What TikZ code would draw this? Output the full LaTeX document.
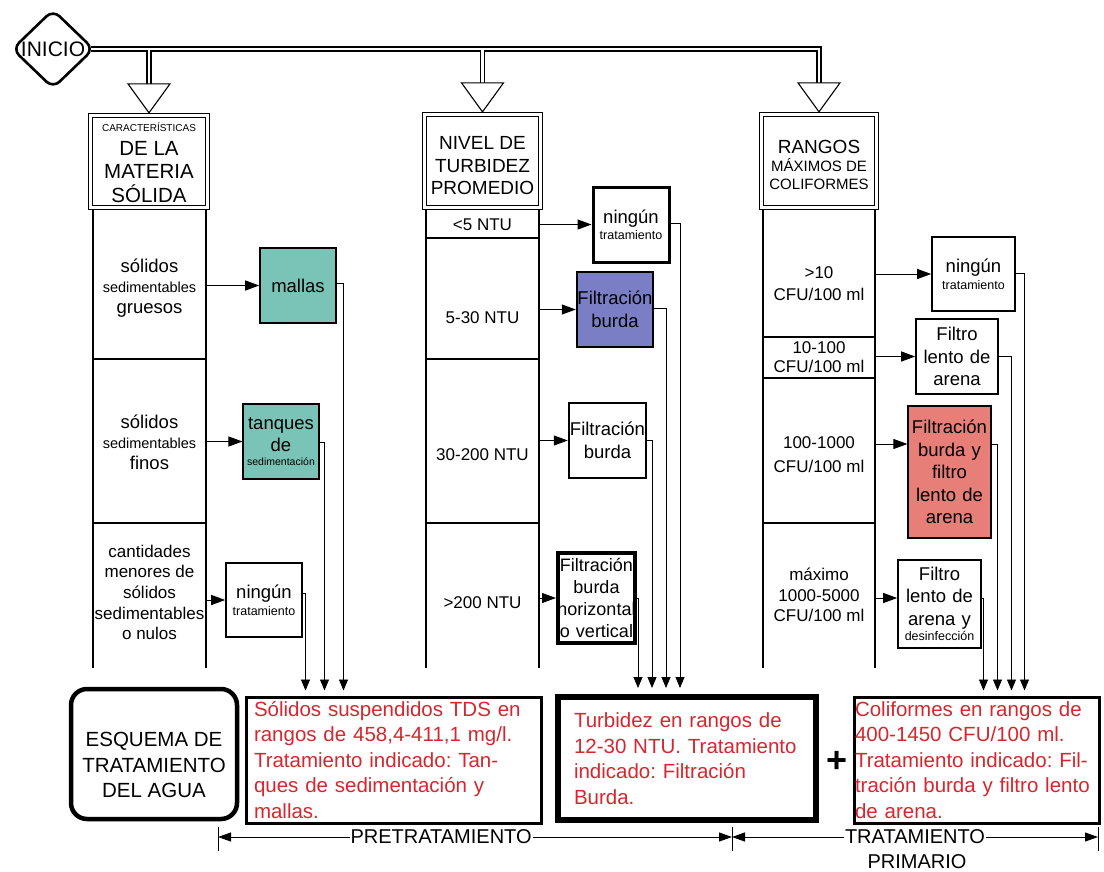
\documentclass[tikz,border=0pt]{standalone}
\usepackage{fontspec}
\setmainfont{Liberation Sans}
\frenchspacing
\usetikzlibrary{shapes.geometric,arrows.meta,calc}
\newcommand{\setsz}[2]{\fontsize{#1}{#2}\selectfont}
\definecolor{mallacol}{RGB}{122,196,183}
\definecolor{burdacol}{RGB}{122,127,197}
\definecolor{arenacol}{RGB}{232,126,120}
\definecolor{notecol}{RGB}{214,38,46}
\tikzset{
  pipe/.style={double,double distance=2.8pt,line width=1.2pt},
  header/.style={draw,double,double distance=2.6pt,line width=1.1pt,inner sep=0pt},
  col/.style={line width=1.3pt},
  treat/.style={draw,line width=1.6pt,inner sep=0pt,align=center,font={\setsz{18.5}{22.5}}},
  feed/.style={line width=1pt,arrows={-Triangle[length=14pt,width=10pt]}},
  drop/.style={line width=0.8pt,arrows={-Triangle[length=11pt,width=9pt]}},
  note/.style={draw,line width=3pt,inner ysep=0pt,align=left,text=notecol,font={\setsz{20.5}{25.5}}},
  dim/.style={line width=0.9pt,arrows={Triangle[length=13pt,width=9pt]-Triangle[length=13pt,width=9pt]}}
}
\begin{document}
\begin{tikzpicture}[x=1pt,y=-1pt]
  \useasboundingbox (0,0) rectangle (1104,871);
  % start and the three headers
  \node[diamond,draw,line width=2.6pt,rounded corners=9pt,inner sep=0pt,aspect=1,
    minimum width=82pt,font={\setsz{21}{24}}] (ini) at (53,49) {INICIO};
  \node[header,minimum width=117.2pt,minimum height=92.2pt] (hL) at (149,161.5) {};
  \node[header,minimum width=116.2pt,minimum height=93.2pt] (hM) at (482.5,161) {};
  \node[header,minimum width=115.2pt,minimum height=93.2pt] (hR) at (819,161) {};
  \node[align=center,font={\setsz{20.5}{23.5}}] (hLt) at (149,163)
    {{\setsz{10}{12}CARACTERÍSTICAS}\\DE LA\\MATERIA\\SÓLIDA};
  \node[align=center,font={\setsz{19}{22.5}}] (hMt) at (482.5,166) {NIVEL DE\\TURBIDEZ\\PROMEDIO};
  \node[align=center,font={\setsz{15}{18}}] (hRt) at (819,165)
    {{\setsz{19}{20}RANGOS}\\MÁXIMOS DE\\COLIFORMES};
  % double pipe from the start
  \draw[pipe] ($(ini.east)+(-4,0)$) -- (ini.east -| hR.north) -- ($(hR.north)+(0,-30)$)
    (ini.east -| hL.north) -- ($(hL.north)+(0,-30)$)
    (ini.east -| hM.north) -- ($(hM.north)+(0,-30)$);
  \foreach \h in {hL,hM,hR}
    \draw[fill=white,line width=1.1pt] ($(\h.north)+(-21,-31)$) -- ($(\h.north)+(0,-2)$)
      -- ($(\h.north)+(21,-31)$) -- cycle;
  % columns below the headers
  \coordinate (Lr) at (206,0);
  \coordinate (Mr) at (539,0);
  \coordinate (Rr) at (875,0);
  \draw[col] (93,210) -- (93,668) (206,210) -- (206,668)
    (93,359) -- (206,359) (93,523) -- (206,523);
  \draw[col] (426,210) -- (426,668) (539,210) -- (539,668)
    (426,238) -- (539,238) (426,359) -- (539,359) (426,523) -- (539,523);
  \draw[col] (763,210) -- (763,668) (875,210) -- (875,668)
    (763,337) -- (875,337) (763,378) -- (875,378) (763,523) -- (875,523);
  % solid matter
  \node[align=center,font={\setsz{18.5}{20.5}}] (sL1) at (149.5,288)
    {sólidos\\{\setsz{14.5}{16}sedimentables}\\gruesos};
  \node[align=center,font={\setsz{18.5}{20.5}}] (sL2) at (149.5,442)
    {sólidos\\{\setsz{14.5}{16}sedimentables}\\finos};
  \node[align=center,font={\setsz{17}{20.6}}] (sL3) at (149.5,592.5)
    {cantidades\\menores de\\sólidos\\sedimentables\\o nulos};
  % turbidity
  \node[font={\setsz{17}{20}}] (sM1) at (482.5,225) {<5 NTU};
  \node[font={\setsz{17}{20}}] (sM2) at (482.5,318) {5-30 NTU};
  \node[font={\setsz{17}{20}}] (sM3) at (482.5,455) {30-200 NTU};
  \node[font={\setsz{17}{20}}] (sM4) at (482.5,603) {>200 NTU};
  % coliforms
  \node[align=center,font={\setsz{17}{22}}] (sR1) at (819,284) {>10\\CFU/100 ml};
  \node[align=center,font={\setsz{17}{19}}] (sR2) at (819,357.5) {10-100\\CFU/100 ml};
  \node[align=center,font={\setsz{17}{24}}] (sR3) at (819,455) {100-1000\\CFU/100 ml};
  \node[align=center,font={\setsz{17}{20.5}}] (sR4) at (819,595) {máximo\\1000-5000\\CFU/100 ml};
  % treatments
  \node[treat,fill=mallacol,text width=76pt,minimum height=75pt] (mallas) at (298,285.5) {mallas};
  \node[treat,fill=mallacol,line width=1.2pt,text width=76pt,minimum height=75pt] (tanq) at (281,441.5)
    {tanques\\de\\[-9pt]{\setsz{10.5}{12}sedimentación}};
  \node[treat,text width=76pt,minimum height=74pt] (ning1) at (264,600)
    {ningún\\[-6pt]{\setsz{12.5}{14}tratamiento}};
  \node[treat,line width=3pt,text width=76pt,minimum height=75pt] (ning2) at (631,224.5)
    {ningún\\[-6pt]{\setsz{12.5}{14}tratamiento}};
  \node[treat,fill=burdacol,line width=2.4pt,text width=76pt,minimum height=75pt] (burda1) at (615,309.5)
    {Filtración\\burda};
  \node[treat,line width=2.4pt,text width=77pt,minimum height=75pt] (burda2) at (607.5,440.5)
    {Filtración\\burda};
  \node[treat,line width=4pt,text width=77pt,minimum height=90pt,font={\setsz{18}{21.7}}] (burda3) at (596.5,598)
    {Filtración\\burda\\\makebox[77pt]{horizontal}\\o vertical};
  \node[treat,text width=83pt,minimum height=74pt] (ning3) at (973.5,274)
    {ningún\\[-6pt]{\setsz{12.5}{14}tratamiento}};
  \node[treat,text width=82pt,minimum height=75pt] (filtro1) at (957,356.5)
    {Filtro\\lento de\\arena};
  \node[treat,fill=arenacol,line width=1.2pt,text width=83pt,minimum height=132pt] (redb) at (949.5,472)
    {Filtración\\burda y\\filtro\\lento de\\arena};
  \node[treat,text width=83pt,minimum height=88pt] (filtro2) at (939.5,604)
    {Filtro\\lento de\\arena y\\[-7pt]{\setsz{12.5}{14}desinfección}};
  \coordinate (redin) at ($(redb.west)+(0,-28)$);
  \coordinate (f2in) at ($(filtro2.west)+(0,-6)$);
  % arrows into the treatments
  \foreach \b in {mallas,tanq,ning1} \draw[feed] (Lr |- \b.west) -- (\b.west);
  \foreach \b in {ning2,burda1,burda2,burda3} \draw[feed] (Mr |- \b.west) -- (\b.west);
  \foreach \b in {ning3,filtro1} \draw[feed] (Rr |- \b.west) -- (\b.west);
  \draw[feed] (Rr |- redin) -- (redin);
  \draw[feed] (Rr |- f2in) -- (f2in);
  % result boxes
  \node[draw,line width=4.5pt,rounded corners=16pt,minimum width=166pt,minimum height=130pt] (esq) at (154,754) {};
  \node[align=center,font={\setsz{20.5}{25.5}}] (esqt) at (154,765) {ESQUEMA DE\\TRATAMIENTO\\DEL AGUA};
  \node[note,text width=279pt,inner xsep=8pt,minimum height=126pt] (tds) at (393.5,760)
    {Sólidos suspendidos TDS en\\rangos de 458,4-411,1 mg/l.\\Tratamiento indicado: Tan-\\ques de sedimentación y\\mallas.};
  \node[note,line width=6pt,text width=226pt,inner xsep=16pt,minimum height=123pt] (turb) at (687,758.5)
    {Turbidez en rangos de\\12-30 NTU. Tratamiento\\indicado: Filtración\\Burda.};
  \node[note,text width=243pt,inner xsep=1pt,minimum height=126pt] (coli) at (976.5,760)
    {Coliformes en rangos de\\400-1450 CFU/100 ml.\\Tratamiento indicado: Fil-\\tración burda y filtro lento\\de arena.};
  \node[font={\setsz{36}{36}\bfseries}] (plus) at (837,762) {+};
  % lines down to the results
  \foreach \b/\dy/\dx in {mallas/-2/99,tanq/1/80,ning1/-7/61}
    \draw[drop] ($(\b.east)+(0,\dy)$) -| ($(tds.north west)+(\dx,-5)$);
  \foreach \b/\dy/\dx in {ning2/-1/125,burda1/-1/111,burda2/0/97,burda3/0/83}
    \draw[drop] ($(\b.east)+(0,\dy)$) -| ($(turb.north west)+(\dx,-6)$);
  \foreach \b/\dy/\dx in {ning3/-1/172,filtro1/0/159,redb/-28/145,filtro2/-6/131}
    \draw[drop] ($(\b.east)+(0,\dy)$) -| ($(coli.north west)+(\dx,-5)$);
  % stages
  \coordinate (d1) at (218,837);
  \coordinate (d2) at (732,837);
  \coordinate (d3) at (1098,837);
  \foreach \d in {d1,d2,d3} \draw[line width=0.9pt] ($(\d)+(0,-10)$) -- ($(\d)+(0,14)$);
  \draw[dim] (d1) -- (d2) node[pos=0.434,fill=white,inner sep=1pt,font={\setsz{20}{24}}] (pre) {PRETRATAMIENTO};
  \draw[dim] (d2) -- (d3) node[pos=0.5,fill=white,inner sep=1pt,font={\setsz{20}{24}}] (tr) {TRATAMIENTO};
  \node[font={\setsz{20}{24}}] (prim) at ($(tr)+(2,25)$) {PRIMARIO};
\end{tikzpicture}
\end{document}
